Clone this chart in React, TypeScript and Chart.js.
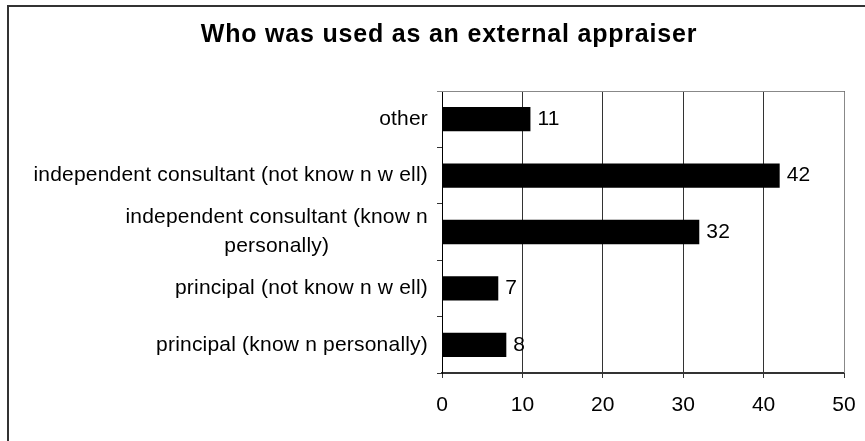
import React, { useEffect, useRef } from 'react';
import { Chart, registerables } from 'chart.js';

Chart.register(...registerables);

const TITLE = 'Who was used as an external appraiser';
const categories: (string | string[])[] = [
  'other',
  'independent consultant (not know n w ell)',
  ['independent consultant (know n', 'personally)'],
  'principal (not know n w ell)',
  'principal (know n personally)',
];
const values = [11, 42, 32, 7, 8];
const xMin = 0;
const xMax = 50;
const xStep = 10;

const FONT = '"Liberation Sans", Arial, sans-serif';

const decorPlugin = {
  id: 'decor',
  afterDraw(chart: any) {
    const ctx = chart.ctx as CanvasRenderingContext2D;
    const area = chart.chartArea;
    const yScale = chart.scales.y;
    const meta = chart.getDatasetMeta(0);
    ctx.save();
    // plot frame (top / right) in gray
    ctx.strokeStyle = '#888888';
    ctx.lineWidth = 1;
    ctx.beginPath();
    ctx.moveTo(area.left - 5, Math.round(area.top) + 0.5);
    ctx.lineTo(Math.round(area.right) + 0.5, Math.round(area.top) + 0.5);
    ctx.lineTo(Math.round(area.right) + 0.5, Math.round(area.bottom));
    ctx.stroke();

    // outer chart border (top + left)
    ctx.strokeStyle = '#333333';
    ctx.lineWidth = 2;
    ctx.beginPath();
    ctx.moveTo(8, 441);
    ctx.lineTo(8, 6);
    ctx.lineTo(865, 6);
    ctx.stroke();

    // title
    ctx.fillStyle = '#000';
    ctx.font = `bold 25px ${FONT}`;
    (ctx as any).letterSpacing = '0.8px';
    ctx.textAlign = 'center';
    ctx.textBaseline = 'middle';
    ctx.fillText(TITLE, 449, 35);

    // category labels
    ctx.font = `21px ${FONT}`;
    (ctx as any).letterSpacing = '0.2px';
    ctx.textBaseline = 'middle';
    const rightX = area.left - 14;
    categories.forEach((lab, i) => {
      const y = yScale.getPixelForValue(i);
      if (Array.isArray(lab)) {
        const w0 = ctx.measureText(lab[0]).width;
        const cx = rightX - w0 / 2;
        const lh = 29;
        const y0 = y - ((lab.length - 1) * lh) / 2;
        ctx.textAlign = 'center';
        lab.forEach((ln, k) => ctx.fillText(ln, cx, y0 + k * lh));
      } else {
        ctx.textAlign = 'right';
        ctx.fillText(lab, rightX, y);
      }
    });

    // value labels
    ctx.textAlign = 'left';
    meta.data.forEach((bar: any, i: number) => {
      ctx.fillText(String(values[i]), bar.x + 7, bar.y);
    });
    ctx.restore();
  },
};

export default function App() {
  const ref = useRef<HTMLCanvasElement>(null);
  useEffect(() => {
    if (!ref.current) return;
    const chart = new Chart(ref.current, {
      type: 'bar',
      data: {
        labels: categories as any,
        datasets: [
          {
            data: values,
            backgroundColor: '#000000',
            borderWidth: 0,
            barPercentage: 0.43,
            categoryPercentage: 1,
          },
        ],
      },
      options: {
        indexAxis: 'y',
        responsive: false,
        animation: false,
        layout: { padding: { top: 91, right: 21, left: 0, bottom: 0 } },
        plugins: {
          legend: { display: false },
          tooltip: { enabled: false },
          title: { display: false },
        },
        scales: {
          x: {
            min: xMin,
            max: xMax,
            ticks: {
              stepSize: xStep,
              color: '#000',
              font: { family: FONT, size: 21 },
              padding: 15,
            },
            grid: { color: '#333333', lineWidth: 1, tickLength: 5 },
            border: { color: '#333333', width: 2 },
            afterFit: (s: any) => {
              s.height = 68;
              s.paddingRight = 0;
              s.paddingLeft = 0;
            },
          },
          y: {
            ticks: { display: false },
            grid: { drawOnChartArea: false, color: '#333333', tickLength: 5, offset: true },
            border: { color: '#000000', width: 1 },
            afterFit: (s: any) => {
              s.width = 442;
            },
          },
        },
      },
      plugins: [decorPlugin],
    });
    return () => chart.destroy();
  }, []);
  return (
    <div style={{ position: 'fixed', left: 0, top: 0, width: 865, height: 441, background: '#fff' }}>
      <canvas ref={ref} width={865} height={441} style={{ display: 'block' }} />
    </div>
  );
}
